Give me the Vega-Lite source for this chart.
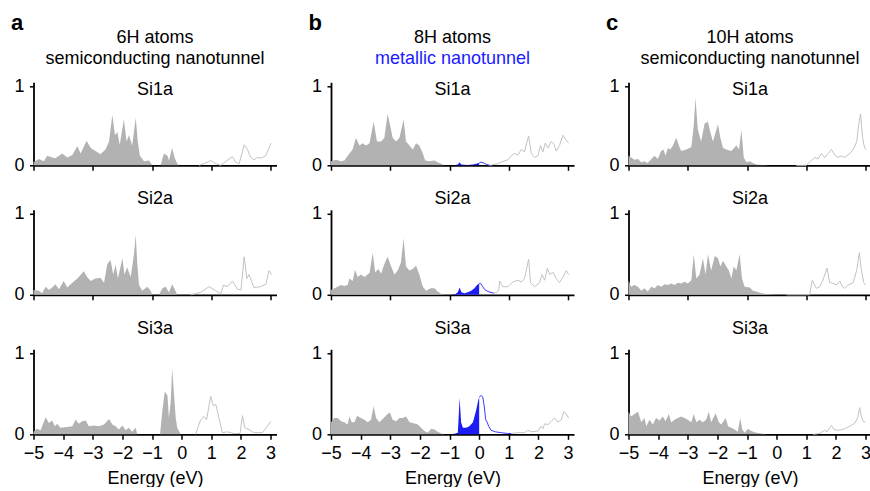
{
"$schema":"https://vega.github.io/schema/vega-lite/v6.json",
"background":"white",
"padding":{"left":10.5,"top":11.3,"right":0,"bottom":0},
"spacing":31.5,
"config":{
 "font":"Liberation Sans",
 "view":{"stroke":null},
 "axis":{"domainColor":"#000","domainWidth":1.8,"tickColor":"#000","tickWidth":1.5,"labelColor":"#000","labelFont":"Liberation Sans","labelFontSize":18,"titleFont":"Liberation Sans","titleFontSize":18,"titleFontWeight":"normal","titleColor":"#000","grid":false,"labelFlush":false,"labelOverlap":false},
 "axisX":{"tickSize":5,"labelPadding":5.5,"titlePadding":6.5,"labelOverlap":false},
 "axisQuantitative":{"labelOverlap":false},
 "axisY":{"tickSize":4,"labelPadding":5.5},
 "text":{"font":"Liberation Sans","fontSize":18,"color":"#000","baseline":"alphabetic"},
 "area":{"color":"#b2b2b2"},
 "line":{"color":"#c2c2c2","strokeWidth":1}
},
"datasets":{
 "a1g":[{"e":-5,"v":0.04},{"e":-4.82,"v":0.08},{"e":-4.65,"v":0.05},{"e":-4.54,"v":0.12},{"e":-4.37,"v":0.1},{"e":-4.26,"v":0.09},{"e":-4.03,"v":0.15},{"e":-3.86,"v":0.1},{"e":-3.69,"v":0.13},{"e":-3.52,"v":0.24},{"e":-3.41,"v":0.15},{"e":-3.21,"v":0.31},{"e":-3.07,"v":0.22},{"e":-2.91,"v":0.18},{"e":-2.74,"v":0.14},{"e":-2.57,"v":0.2},{"e":-2.45,"v":0.3},{"e":-2.34,"v":0.64},{"e":-2.25,"v":0.38},{"e":-2.17,"v":0.42},{"e":-2.09,"v":0.26},{"e":-1.95,"v":0.58},{"e":-1.86,"v":0.3},{"e":-1.78,"v":0.38},{"e":-1.67,"v":0.25},{"e":-1.55,"v":0.6},{"e":-1.48,"v":0.3},{"e":-1.41,"v":0.12},{"e":-1.27,"v":0.05},{"e":-1.1,"v":0.06},{"e":-0.99,"v":0},{"e":-0.71,"v":0},{"e":-0.6,"v":0.15},{"e":-0.48,"v":0.12},{"e":-0.43,"v":0.06},{"e":-0.32,"v":0.22},{"e":-0.24,"v":0.1},{"e":-0.15,"v":0.02},{"e":-0.09,"v":0}],
 "a1l":[{"e":0.59,"v":0},{"e":0.75,"v":0.02},{"e":0.98,"v":0.06},{"e":1.15,"v":0.02},{"e":1.32,"v":0},{"e":1.49,"v":0.05},{"e":1.71,"v":0.11},{"e":1.82,"v":0.04},{"e":1.94,"v":0.02},{"e":2.11,"v":0.26},{"e":2.22,"v":0.2},{"e":2.33,"v":0.1},{"e":2.44,"v":0.07},{"e":2.56,"v":0.1},{"e":2.67,"v":0.09},{"e":2.84,"v":0.12},{"e":3.01,"v":0.28}],
 "a2g":[{"e":-5,"v":0.06},{"e":-4.82,"v":0.05},{"e":-4.71,"v":0.02},{"e":-4.59,"v":0.1},{"e":-4.48,"v":0.06},{"e":-4.37,"v":0.09},{"e":-4.26,"v":0.13},{"e":-4.14,"v":0.07},{"e":-3.98,"v":0.17},{"e":-3.86,"v":0.09},{"e":-3.69,"v":0.15},{"e":-3.52,"v":0.2},{"e":-3.3,"v":0.29},{"e":-3.19,"v":0.22},{"e":-3.07,"v":0.17},{"e":-2.91,"v":0.2},{"e":-2.74,"v":0.21},{"e":-2.62,"v":0.15},{"e":-2.51,"v":0.38},{"e":-2.4,"v":0.43},{"e":-2.31,"v":0.25},{"e":-2.23,"v":0.37},{"e":-2.15,"v":0.2},{"e":-2.0,"v":0.45},{"e":-1.93,"v":0.25},{"e":-1.84,"v":0.34},{"e":-1.72,"v":0.22},{"e":-1.61,"v":0.5},{"e":-1.55,"v":0.74},{"e":-1.5,"v":0.4},{"e":-1.44,"v":0.12},{"e":-1.33,"v":0.05},{"e":-1.16,"v":0.1},{"e":-1.05,"v":0.05},{"e":-0.99,"v":0},{"e":-0.77,"v":0},{"e":-0.65,"v":0.08},{"e":-0.54,"v":0.1},{"e":-0.43,"v":0.03},{"e":-0.32,"v":0.13},{"e":-0.2,"v":0.04},{"e":-0.15,"v":0}],
 "a2l":[{"e":0.3,"v":0},{"e":0.64,"v":0.03},{"e":0.92,"v":0.1},{"e":1.15,"v":0.05},{"e":1.32,"v":0.01},{"e":1.41,"v":0.12},{"e":1.54,"v":0.1},{"e":1.71,"v":0.17},{"e":1.88,"v":0.07},{"e":2.0,"v":0.06},{"e":2.11,"v":0.47},{"e":2.2,"v":0.2},{"e":2.27,"v":0.25},{"e":2.44,"v":0.09},{"e":2.67,"v":0.1},{"e":2.84,"v":0.13},{"e":2.95,"v":0.3},{"e":3.03,"v":0.25}],
 "a3g":[{"e":-5,"v":0.03},{"e":-4.88,"v":0.07},{"e":-4.76,"v":0.05},{"e":-4.59,"v":0.21},{"e":-4.48,"v":0.14},{"e":-4.37,"v":0.17},{"e":-4.28,"v":0.1},{"e":-4.2,"v":0.13},{"e":-4.09,"v":0.08},{"e":-3.86,"v":0.09},{"e":-3.69,"v":0.1},{"e":-3.58,"v":0.18},{"e":-3.47,"v":0.13},{"e":-3.36,"v":0.16},{"e":-3.24,"v":0.17},{"e":-3.13,"v":0.1},{"e":-2.96,"v":0.11},{"e":-2.79,"v":0.1},{"e":-2.62,"v":0.12},{"e":-2.45,"v":0.19},{"e":-2.34,"v":0.12},{"e":-2.23,"v":0.1},{"e":-2.12,"v":0.06},{"e":-2.0,"v":0.11},{"e":-1.89,"v":0.05},{"e":-1.78,"v":0.08},{"e":-1.67,"v":0.03},{"e":-1.55,"v":0.08},{"e":-1.5,"v":0},{"e":-0.73,"v":0},{"e":-0.65,"v":0.3},{"e":-0.57,"v":0.53},{"e":-0.48,"v":0.48},{"e":-0.43,"v":0.2},{"e":-0.37,"v":0.4},{"e":-0.32,"v":0.82},{"e":-0.26,"v":0.5},{"e":-0.2,"v":0.2},{"e":-0.15,"v":0.08},{"e":-0.03,"v":0}],
 "a3l":[{"e":0.47,"v":0},{"e":0.64,"v":0.18},{"e":0.75,"v":0.22},{"e":0.84,"v":0.18},{"e":0.98,"v":0.47},{"e":1.07,"v":0.35},{"e":1.15,"v":0.37},{"e":1.26,"v":0.2},{"e":1.37,"v":0.02},{"e":1.54,"v":0.03},{"e":1.77,"v":0.01},{"e":1.97,"v":0.01},{"e":2.05,"v":0.23},{"e":2.13,"v":0.08},{"e":2.27,"v":0.06},{"e":2.44,"v":0.02},{"e":2.73,"v":0.02},{"e":2.89,"v":0.1},{"e":3.01,"v":0.16}],
 "b1g":[{"e":-5,"v":0.05},{"e":-4.83,"v":0.07},{"e":-4.66,"v":0.05},{"e":-4.55,"v":0.06},{"e":-4.38,"v":0.15},{"e":-4.27,"v":0.2},{"e":-4.16,"v":0.35},{"e":-4.04,"v":0.25},{"e":-3.93,"v":0.28},{"e":-3.82,"v":0.25},{"e":-3.7,"v":0.28},{"e":-3.56,"v":0.55},{"e":-3.45,"v":0.3},{"e":-3.31,"v":0.3},{"e":-3.2,"v":0.35},{"e":-3.09,"v":0.65},{"e":-3.0,"v":0.5},{"e":-2.92,"v":0.35},{"e":-2.8,"v":0.3},{"e":-2.69,"v":0.35},{"e":-2.55,"v":0.58},{"e":-2.47,"v":0.3},{"e":-2.35,"v":0.25},{"e":-2.24,"v":0.2},{"e":-2.13,"v":0.28},{"e":-2.02,"v":0.25},{"e":-1.9,"v":0.15},{"e":-1.82,"v":0.06},{"e":-1.68,"v":0.05},{"e":-1.51,"v":0.06},{"e":-1.4,"v":0.04},{"e":-1.28,"v":0.02},{"e":-1.19,"v":0}],
 "b1ba":[{"e":-0.85,"v":0},{"e":-0.72,"v":0.01},{"e":-0.66,"v":0.04},{"e":-0.61,"v":0.01},{"e":-0.4,"v":0.005},{"e":-0.2,"v":0.01},{"e":-0.1,"v":0.02},{"e":0,"v":0.03}],
 "b1bl":[{"e":0,"v":0.03},{"e":0.06,"v":0.04},{"e":0.15,"v":0.03},{"e":0.25,"v":0.01},{"e":0.35,"v":0}],
 "b1l":[{"e":0.35,"v":0},{"e":0.5,"v":0.01},{"e":0.63,"v":0.02},{"e":0.8,"v":0.05},{"e":0.97,"v":0.07},{"e":1.08,"v":0.12},{"e":1.19,"v":0.15},{"e":1.31,"v":0.13},{"e":1.42,"v":0.2},{"e":1.53,"v":0.17},{"e":1.6,"v":0.28},{"e":1.67,"v":0.37},{"e":1.76,"v":0.15},{"e":1.87,"v":0.1},{"e":1.98,"v":0.12},{"e":2.07,"v":0.25},{"e":2.15,"v":0.17},{"e":2.23,"v":0.28},{"e":2.32,"v":0.22},{"e":2.43,"v":0.3},{"e":2.52,"v":0.27},{"e":2.6,"v":0.18},{"e":2.71,"v":0.25},{"e":2.83,"v":0.38},{"e":2.91,"v":0.33},{"e":3.02,"v":0.28}],
 "b2g":[{"e":-5,"v":0.06},{"e":-4.83,"v":0.09},{"e":-4.66,"v":0.12},{"e":-4.55,"v":0.11},{"e":-4.44,"v":0.12},{"e":-4.38,"v":0.2},{"e":-4.27,"v":0.17},{"e":-4.19,"v":0.31},{"e":-4.1,"v":0.22},{"e":-3.99,"v":0.25},{"e":-3.87,"v":0.22},{"e":-3.7,"v":0.27},{"e":-3.59,"v":0.52},{"e":-3.51,"v":0.28},{"e":-3.4,"v":0.32},{"e":-3.31,"v":0.26},{"e":-3.2,"v":0.38},{"e":-3.09,"v":0.47},{"e":-2.97,"v":0.35},{"e":-2.86,"v":0.25},{"e":-2.75,"v":0.3},{"e":-2.64,"v":0.4},{"e":-2.55,"v":0.7},{"e":-2.47,"v":0.35},{"e":-2.35,"v":0.3},{"e":-2.24,"v":0.32},{"e":-2.13,"v":0.36},{"e":-2.02,"v":0.25},{"e":-1.9,"v":0.1},{"e":-1.79,"v":0.05},{"e":-1.64,"v":0.08},{"e":-1.51,"v":0.08},{"e":-1.4,"v":0.04},{"e":-1.28,"v":0.01},{"e":-1.19,"v":0}],
 "b2ba":[{"e":-0.97,"v":0},{"e":-0.8,"v":0.01},{"e":-0.72,"v":0.03},{"e":-0.66,"v":0.09},{"e":-0.6,"v":0.03},{"e":-0.5,"v":0.02},{"e":-0.38,"v":0.03},{"e":-0.27,"v":0.05},{"e":-0.16,"v":0.08},{"e":-0.07,"v":0.12},{"e":0,"v":0.14}],
 "b2bl":[{"e":0,"v":0.14},{"e":0.05,"v":0.14},{"e":0.12,"v":0.1},{"e":0.2,"v":0.06},{"e":0.3,"v":0.04},{"e":0.4,"v":0.03},{"e":0.5,"v":0.02}],
 "b2l":[{"e":0.5,"v":0.02},{"e":0.6,"v":0.03},{"e":0.66,"v":0.06},{"e":0.69,"v":0.17},{"e":0.8,"v":0.1},{"e":0.97,"v":0.1},{"e":1.14,"v":0.16},{"e":1.31,"v":0.18},{"e":1.42,"v":0.16},{"e":1.53,"v":0.2},{"e":1.67,"v":0.44},{"e":1.73,"v":0.15},{"e":1.87,"v":0.1},{"e":2.04,"v":0.15},{"e":2.12,"v":0.25},{"e":2.21,"v":0.18},{"e":2.3,"v":0.33},{"e":2.38,"v":0.25},{"e":2.49,"v":0.28},{"e":2.6,"v":0.2},{"e":2.71,"v":0.15},{"e":2.83,"v":0.22},{"e":2.94,"v":0.3},{"e":3.02,"v":0.25}],
 "b3g":[{"e":-5,"v":0.15},{"e":-4.89,"v":0.2},{"e":-4.77,"v":0.2},{"e":-4.66,"v":0.16},{"e":-4.55,"v":0.15},{"e":-4.44,"v":0.12},{"e":-4.38,"v":0.22},{"e":-4.3,"v":0.15},{"e":-4.21,"v":0.15},{"e":-4.12,"v":0.23},{"e":-3.99,"v":0.2},{"e":-3.87,"v":0.18},{"e":-3.76,"v":0.15},{"e":-3.65,"v":0.18},{"e":-3.56,"v":0.35},{"e":-3.48,"v":0.2},{"e":-3.37,"v":0.15},{"e":-3.22,"v":0.2},{"e":-3.09,"v":0.25},{"e":-3.01,"v":0.27},{"e":-2.92,"v":0.18},{"e":-2.8,"v":0.16},{"e":-2.69,"v":0.2},{"e":-2.58,"v":0.2},{"e":-2.47,"v":0.22},{"e":-2.35,"v":0.15},{"e":-2.24,"v":0.14},{"e":-2.07,"v":0.12},{"e":-1.96,"v":0.08},{"e":-1.85,"v":0.04},{"e":-1.73,"v":0.02},{"e":-1.62,"v":0.07},{"e":-1.51,"v":0.06},{"e":-1.4,"v":0.03},{"e":-1.28,"v":0.01},{"e":-1.17,"v":0}],
 "b3ba":[{"e":-0.95,"v":0},{"e":-0.8,"v":0.01},{"e":-0.72,"v":0.02},{"e":-0.68,"v":0.3},{"e":-0.66,"v":0.45},{"e":-0.61,"v":0.15},{"e":-0.55,"v":0.08},{"e":-0.44,"v":0.08},{"e":-0.33,"v":0.1},{"e":-0.21,"v":0.15},{"e":-0.1,"v":0.3},{"e":-0.03,"v":0.42},{"e":0,"v":0.46}],
 "b3bl":[{"e":0,"v":0.46},{"e":0.07,"v":0.48},{"e":0.12,"v":0.46},{"e":0.17,"v":0.35},{"e":0.22,"v":0.18},{"e":0.27,"v":0.15},{"e":0.32,"v":0.1},{"e":0.4,"v":0.05},{"e":0.55,"v":0.03},{"e":0.75,"v":0.02},{"e":0.95,"v":0.01},{"e":1.08,"v":0.01}],
 "b3l":[{"e":1.08,"v":0.01},{"e":1.31,"v":0.02},{"e":1.53,"v":0.02},{"e":1.64,"v":0.05},{"e":1.76,"v":0.03},{"e":1.98,"v":0.04},{"e":2.09,"v":0.1},{"e":2.15,"v":0.07},{"e":2.21,"v":0.13},{"e":2.32,"v":0.12},{"e":2.43,"v":0.16},{"e":2.55,"v":0.2},{"e":2.66,"v":0.15},{"e":2.77,"v":0.18},{"e":2.86,"v":0.28},{"e":2.94,"v":0.25},{"e":3.02,"v":0.2}],
 "c1g":[{"e":-5,"v":0.12},{"e":-4.91,"v":0.1},{"e":-4.8,"v":0.07},{"e":-4.68,"v":0.08},{"e":-4.57,"v":0.04},{"e":-4.46,"v":0.05},{"e":-4.35,"v":0.03},{"e":-4.23,"v":0.08},{"e":-4.12,"v":0.12},{"e":-4.01,"v":0.08},{"e":-3.9,"v":0.18},{"e":-3.82,"v":0.2},{"e":-3.75,"v":0.12},{"e":-3.67,"v":0.22},{"e":-3.59,"v":0.2},{"e":-3.5,"v":0.25},{"e":-3.39,"v":0.35},{"e":-3.3,"v":0.25},{"e":-3.22,"v":0.18},{"e":-3.05,"v":0.2},{"e":-2.88,"v":0.23},{"e":-2.8,"v":0.5},{"e":-2.74,"v":0.85},{"e":-2.66,"v":0.45},{"e":-2.55,"v":0.3},{"e":-2.43,"v":0.53},{"e":-2.32,"v":0.55},{"e":-2.24,"v":0.42},{"e":-2.15,"v":0.3},{"e":-1.98,"v":0.52},{"e":-1.9,"v":0.35},{"e":-1.81,"v":0.22},{"e":-1.7,"v":0.2},{"e":-1.53,"v":0.18},{"e":-1.36,"v":0.25},{"e":-1.27,"v":0.2},{"e":-1.19,"v":0.45},{"e":-1.11,"v":0.1},{"e":-1.02,"v":0.04},{"e":-0.91,"v":0.05},{"e":-0.8,"v":0.03},{"e":-0.69,"v":0.01},{"e":-0.46,"v":0.005},{"e":-0.24,"v":0}],
 "c1l":[{"e":0.66,"v":0},{"e":1.0,"v":0},{"e":1.17,"v":0.06},{"e":1.28,"v":0.1},{"e":1.4,"v":0.08},{"e":1.51,"v":0.15},{"e":1.62,"v":0.1},{"e":1.74,"v":0.15},{"e":1.85,"v":0.2},{"e":1.96,"v":0.13},{"e":2.07,"v":0.1},{"e":2.18,"v":0.12},{"e":2.3,"v":0.1},{"e":2.47,"v":0.15},{"e":2.59,"v":0.2},{"e":2.7,"v":0.3},{"e":2.78,"v":0.55},{"e":2.83,"v":0.65},{"e":2.9,"v":0.35},{"e":2.95,"v":0.25},{"e":3.0,"v":0.2}],
 "c2g":[{"e":-5,"v":0.18},{"e":-4.91,"v":0.1},{"e":-4.8,"v":0.12},{"e":-4.68,"v":0.1},{"e":-4.57,"v":0.05},{"e":-4.46,"v":0.08},{"e":-4.35,"v":0.04},{"e":-4.23,"v":0.1},{"e":-4.12,"v":0.08},{"e":-4.01,"v":0.12},{"e":-3.9,"v":0.1},{"e":-3.78,"v":0.13},{"e":-3.67,"v":0.12},{"e":-3.56,"v":0.14},{"e":-3.45,"v":0.12},{"e":-3.33,"v":0.15},{"e":-3.22,"v":0.14},{"e":-3.11,"v":0.16},{"e":-3.0,"v":0.14},{"e":-2.88,"v":0.18},{"e":-2.8,"v":0.5},{"e":-2.71,"v":0.2},{"e":-2.6,"v":0.25},{"e":-2.49,"v":0.45},{"e":-2.4,"v":0.25},{"e":-2.32,"v":0.5},{"e":-2.21,"v":0.3},{"e":-2.09,"v":0.48},{"e":-1.98,"v":0.45},{"e":-1.9,"v":0.35},{"e":-1.81,"v":0.42},{"e":-1.7,"v":0.35},{"e":-1.61,"v":0.3},{"e":-1.53,"v":0.2},{"e":-1.45,"v":0.35},{"e":-1.36,"v":0.3},{"e":-1.25,"v":0.5},{"e":-1.17,"v":0.2},{"e":-1.08,"v":0.1},{"e":-0.91,"v":0.09},{"e":-0.8,"v":0.05},{"e":-0.69,"v":0.04},{"e":-0.52,"v":0.02},{"e":-0.35,"v":0.01},{"e":-0.12,"v":0.005},{"e":-0.01,"v":0}],
 "c2l":[{"e":0.33,"v":0},{"e":0.89,"v":0},{"e":1.11,"v":0},{"e":1.2,"v":0.18},{"e":1.34,"v":0.08},{"e":1.45,"v":0.1},{"e":1.56,"v":0.18},{"e":1.7,"v":0.33},{"e":1.79,"v":0.15},{"e":1.91,"v":0.14},{"e":2.02,"v":0.12},{"e":2.13,"v":0.17},{"e":2.22,"v":0.1},{"e":2.3,"v":0.08},{"e":2.41,"v":0.12},{"e":2.58,"v":0.15},{"e":2.7,"v":0.3},{"e":2.79,"v":0.52},{"e":2.86,"v":0.3},{"e":2.94,"v":0.15},{"e":3.0,"v":0.12}],
 "c3g":[{"e":-5,"v":0.28},{"e":-4.91,"v":0.22},{"e":-4.8,"v":0.25},{"e":-4.68,"v":0.28},{"e":-4.57,"v":0.15},{"e":-4.46,"v":0.2},{"e":-4.4,"v":0.1},{"e":-4.29,"v":0.18},{"e":-4.18,"v":0.12},{"e":-4.07,"v":0.2},{"e":-3.95,"v":0.17},{"e":-3.84,"v":0.22},{"e":-3.75,"v":0.16},{"e":-3.64,"v":0.25},{"e":-3.56,"v":0.15},{"e":-3.45,"v":0.18},{"e":-3.33,"v":0.2},{"e":-3.22,"v":0.22},{"e":-3.11,"v":0.2},{"e":-3.0,"v":0.18},{"e":-2.88,"v":0.15},{"e":-2.8,"v":0.25},{"e":-2.71,"v":0.15},{"e":-2.6,"v":0.18},{"e":-2.49,"v":0.15},{"e":-2.38,"v":0.18},{"e":-2.29,"v":0.28},{"e":-2.21,"v":0.15},{"e":-2.06,"v":0.26},{"e":-1.95,"v":0.15},{"e":-1.87,"v":0.12},{"e":-1.72,"v":0.2},{"e":-1.64,"v":0.1},{"e":-1.53,"v":0.08},{"e":-1.42,"v":0.06},{"e":-1.31,"v":0.03},{"e":-1.23,"v":0.2},{"e":-1.16,"v":0.06},{"e":-1.08,"v":0.02},{"e":-0.97,"v":0.07},{"e":-0.86,"v":0.04},{"e":-0.69,"v":0.02},{"e":-0.52,"v":0.01},{"e":-0.35,"v":0}],
 "c3l":[{"e":1.23,"v":0},{"e":1.45,"v":0.01},{"e":1.62,"v":0.05},{"e":1.7,"v":0.03},{"e":1.79,"v":0.08},{"e":1.85,"v":0.11},{"e":1.93,"v":0.06},{"e":2.07,"v":0.05},{"e":2.24,"v":0.06},{"e":2.35,"v":0.08},{"e":2.47,"v":0.1},{"e":2.64,"v":0.14},{"e":2.73,"v":0.2},{"e":2.8,"v":0.33},{"e":2.86,"v":0.22},{"e":2.92,"v":0.16},{"e":3.0,"v":0.15}]
},
"hconcat":[
 {"spacing":15.5,"vconcat":[
  {"width":243,"height":83,
   "layer":[
    {"data":{"name":"a1g"},"mark":"area","encoding":{"x":{"field":"e","type":"quantitative","scale":{"domain":[-5,3.2],"nice":false,"zero":false},"axis":{"values":[-5,-4,-3,-2,-1,0,1,2,3],"labels":false,"title":null}},"y":{"field":"v","type":"quantitative","scale":{"domain":[0,1.05],"nice":false},"axis":{"values":[0,1],"format":"d","title":null}}}},
    {"data":{"name":"a1l"},"mark":"line","encoding":{"x":{"field":"e","type":"quantitative","title":null},"y":{"field":"v","type":"quantitative","title":null}}},
    {"data":{"values":[{"t":"Si1a"}]},"mark":"text","encoding":{"text":{"field":"t"},"x":{"datum":-0.9},"y":{"datum":0.886}}},
    {"data":{"values":[{"t":"6H atoms"}]},"mark":"text","encoding":{"text":{"field":"t"},"x":{"datum":-0.9},"y":{"datum":1.547}}},
    {"data":{"values":[{"t":"semiconducting nanotunnel"}]},"mark":"text","encoding":{"text":{"field":"t"},"x":{"datum":-0.9},"y":{"datum":1.287}}},
    {"data":{"values":[{"t":"a"}]},"mark":{"type":"text","align":"left","fontSize":22,"fontWeight":"bold"},"encoding":{"text":{"field":"t"},"x":{"datum":-5.76},"y":{"datum":1.717}}}
   ]},
  {"width":243,"height":85,
   "layer":[
    {"data":{"name":"a2g"},"mark":"area","encoding":{"x":{"field":"e","type":"quantitative","scale":{"domain":[-5,3.2],"nice":false,"zero":false},"axis":{"values":[-5,-4,-3,-2,-1,0,1,2,3],"labels":false,"title":null}},"y":{"field":"v","type":"quantitative","scale":{"domain":[0,1.05],"nice":false},"axis":{"values":[0,1],"format":"d","title":null}}}},
    {"data":{"name":"a2l"},"mark":"line","encoding":{"x":{"field":"e","type":"quantitative","title":null},"y":{"field":"v","type":"quantitative","title":null}}},
    {"data":{"values":[{"t":"Si2a"}]},"mark":"text","encoding":{"text":{"field":"t"},"x":{"datum":-0.9},"y":{"datum":1.12}}}
   ]},
  {"width":243,"height":85,
   "layer":[
    {"data":{"name":"a3g"},"mark":"area","encoding":{"x":{"field":"e","type":"quantitative","scale":{"domain":[-5,3.2],"nice":false,"zero":false},"axis":{"values":[-5,-4,-3,-2,-1,0,1,2,3],"labelOverlap":false,"labelBound":false,"title":"Energy (eV)"}},"y":{"field":"v","type":"quantitative","scale":{"domain":[0,1.05],"nice":false},"axis":{"values":[0,1],"format":"d","title":null}}}},
    {"data":{"name":"a3l"},"mark":"line","encoding":{"x":{"field":"e","type":"quantitative","axis":{"values":[-5,-4,-3,-2,-1,0,1,2,3],"labelOverlap":false,"title":"Energy (eV)"}},"y":{"field":"v","type":"quantitative","title":null}}},
    {"data":{"values":[{"t":"Si3a"}]},"mark":"text","encoding":{"text":{"field":"t"},"x":{"datum":-0.9,"axis":{"values":[-5,-4,-3,-2,-1,0,1,2,3],"labelOverlap":false,"title":"Energy (eV)"}},"y":{"datum":1.244}}}
   ]}
 ]},
 {"spacing":15.5,"vconcat":[
  {"width":243,"height":83,
   "layer":[
    {"data":{"name":"b1g"},"mark":"area","encoding":{"x":{"field":"e","type":"quantitative","scale":{"domain":[-5,3.2],"nice":false,"zero":false},"axis":{"values":[-5,-4,-3,-2,-1,0,1,2,3],"labels":false,"title":null}},"y":{"field":"v","type":"quantitative","scale":{"domain":[0,1.05],"nice":false},"axis":{"values":[0,1],"format":"d","title":null}}}},
    {"data":{"name":"b1l"},"mark":"line","encoding":{"x":{"field":"e","type":"quantitative","title":null},"y":{"field":"v","type":"quantitative","title":null}}},
    {"data":{"name":"b1ba"},"mark":{"type":"area","color":"#1c1cf5"},"encoding":{"x":{"field":"e","type":"quantitative","title":null},"y":{"field":"v","type":"quantitative","title":null}}},
    {"data":{"name":"b1bl"},"mark":{"type":"line","color":"#3a3aff","strokeWidth":1},"encoding":{"x":{"field":"e","type":"quantitative","title":null},"y":{"field":"v","type":"quantitative","title":null}}},
    {"data":{"values":[{"t":"Si1a"}]},"mark":"text","encoding":{"text":{"field":"t"},"x":{"datum":-0.9},"y":{"datum":0.886}}},
    {"data":{"values":[{"t":"8H atoms"}]},"mark":"text","encoding":{"text":{"field":"t"},"x":{"datum":-0.9},"y":{"datum":1.547}}},
    {"data":{"values":[{"t":"metallic nanotunnel"}]},"mark":{"type":"text","color":"#1a1aff"},"encoding":{"text":{"field":"t"},"x":{"datum":-0.9},"y":{"datum":1.287}}},
    {"data":{"values":[{"t":"b"}]},"mark":{"type":"text","align":"left","fontSize":22,"fontWeight":"bold"},"encoding":{"text":{"field":"t"},"x":{"datum":-5.76},"y":{"datum":1.717}}}
   ]},
  {"width":243,"height":85,
   "layer":[
    {"data":{"name":"b2g"},"mark":"area","encoding":{"x":{"field":"e","type":"quantitative","scale":{"domain":[-5,3.2],"nice":false,"zero":false},"axis":{"values":[-5,-4,-3,-2,-1,0,1,2,3],"labels":false,"title":null}},"y":{"field":"v","type":"quantitative","scale":{"domain":[0,1.05],"nice":false},"axis":{"values":[0,1],"format":"d","title":null}}}},
    {"data":{"name":"b2l"},"mark":"line","encoding":{"x":{"field":"e","type":"quantitative","title":null},"y":{"field":"v","type":"quantitative","title":null}}},
    {"data":{"name":"b2ba"},"mark":{"type":"area","color":"#1c1cf5"},"encoding":{"x":{"field":"e","type":"quantitative","title":null},"y":{"field":"v","type":"quantitative","title":null}}},
    {"data":{"name":"b2bl"},"mark":{"type":"line","color":"#3a3aff","strokeWidth":1},"encoding":{"x":{"field":"e","type":"quantitative","title":null},"y":{"field":"v","type":"quantitative","title":null}}},
    {"data":{"values":[{"t":"Si2a"}]},"mark":"text","encoding":{"text":{"field":"t"},"x":{"datum":-0.9},"y":{"datum":1.12}}}
   ]},
  {"width":243,"height":85,
   "layer":[
    {"data":{"name":"b3g"},"mark":"area","encoding":{"x":{"field":"e","type":"quantitative","scale":{"domain":[-5,3.2],"nice":false,"zero":false},"axis":{"values":[-5,-4,-3,-2,-1,0,1,2,3],"labelOverlap":false,"labelBound":false,"title":"Energy (eV)"}},"y":{"field":"v","type":"quantitative","scale":{"domain":[0,1.05],"nice":false},"axis":{"values":[0,1],"format":"d","title":null}}}},
    {"data":{"name":"b3l"},"mark":"line","encoding":{"x":{"field":"e","type":"quantitative","axis":{"values":[-5,-4,-3,-2,-1,0,1,2,3],"labelOverlap":false,"title":"Energy (eV)"}},"y":{"field":"v","type":"quantitative","title":null}}},
    {"data":{"name":"b3ba"},"mark":{"type":"area","color":"#1c1cf5"},"encoding":{"x":{"field":"e","type":"quantitative","axis":{"values":[-5,-4,-3,-2,-1,0,1,2,3],"labelOverlap":false,"title":"Energy (eV)"}},"y":{"field":"v","type":"quantitative","title":null}}},
    {"data":{"name":"b3bl"},"mark":{"type":"line","color":"#3a3aff","strokeWidth":1},"encoding":{"x":{"field":"e","type":"quantitative","axis":{"values":[-5,-4,-3,-2,-1,0,1,2,3],"labelOverlap":false,"title":"Energy (eV)"}},"y":{"field":"v","type":"quantitative","title":null}}},
    {"data":{"values":[{"t":"Si3a"}]},"mark":"text","encoding":{"text":{"field":"t"},"x":{"datum":-0.9,"axis":{"values":[-5,-4,-3,-2,-1,0,1,2,3],"labelOverlap":false,"title":"Energy (eV)"}},"y":{"datum":1.244}}}
   ]}
 ]},
 {"spacing":15.5,"vconcat":[
  {"width":243,"height":83,
   "layer":[
    {"data":{"name":"c1g"},"mark":"area","encoding":{"x":{"field":"e","type":"quantitative","scale":{"domain":[-5,3.2],"nice":false,"zero":false},"axis":{"values":[-5,-4,-3,-2,-1,0,1,2,3],"labels":false,"title":null}},"y":{"field":"v","type":"quantitative","scale":{"domain":[0,1.05],"nice":false},"axis":{"values":[0,1],"format":"d","title":null}}}},
    {"data":{"name":"c1l"},"mark":"line","encoding":{"x":{"field":"e","type":"quantitative","title":null},"y":{"field":"v","type":"quantitative","title":null}}},
    {"data":{"values":[{"t":"Si1a"}]},"mark":"text","encoding":{"text":{"field":"t"},"x":{"datum":-0.9},"y":{"datum":0.886}}},
    {"data":{"values":[{"t":"10H atoms"}]},"mark":"text","encoding":{"text":{"field":"t"},"x":{"datum":-0.9},"y":{"datum":1.547}}},
    {"data":{"values":[{"t":"semiconducting nanotunnel"}]},"mark":"text","encoding":{"text":{"field":"t"},"x":{"datum":-0.9},"y":{"datum":1.287}}},
    {"data":{"values":[{"t":"c"}]},"mark":{"type":"text","align":"left","fontSize":22,"fontWeight":"bold"},"encoding":{"text":{"field":"t"},"x":{"datum":-5.76},"y":{"datum":1.717}}}
   ]},
  {"width":243,"height":85,
   "layer":[
    {"data":{"name":"c2g"},"mark":"area","encoding":{"x":{"field":"e","type":"quantitative","scale":{"domain":[-5,3.2],"nice":false,"zero":false},"axis":{"values":[-5,-4,-3,-2,-1,0,1,2,3],"labels":false,"title":null}},"y":{"field":"v","type":"quantitative","scale":{"domain":[0,1.05],"nice":false},"axis":{"values":[0,1],"format":"d","title":null}}}},
    {"data":{"name":"c2l"},"mark":"line","encoding":{"x":{"field":"e","type":"quantitative","title":null},"y":{"field":"v","type":"quantitative","title":null}}},
    {"data":{"values":[{"t":"Si2a"}]},"mark":"text","encoding":{"text":{"field":"t"},"x":{"datum":-0.9},"y":{"datum":1.12}}}
   ]},
  {"width":243,"height":85,
   "layer":[
    {"data":{"name":"c3g"},"mark":"area","encoding":{"x":{"field":"e","type":"quantitative","scale":{"domain":[-5,3.2],"nice":false,"zero":false},"axis":{"values":[-5,-4,-3,-2,-1,0,1,2,3],"labelOverlap":false,"labelBound":false,"title":"Energy (eV)"}},"y":{"field":"v","type":"quantitative","scale":{"domain":[0,1.05],"nice":false},"axis":{"values":[0,1],"format":"d","title":null}}}},
    {"data":{"name":"c3l"},"mark":"line","encoding":{"x":{"field":"e","type":"quantitative","axis":{"values":[-5,-4,-3,-2,-1,0,1,2,3],"labelOverlap":false,"title":"Energy (eV)"}},"y":{"field":"v","type":"quantitative","title":null}}},
    {"data":{"values":[{"t":"Si3a"}]},"mark":"text","encoding":{"text":{"field":"t"},"x":{"datum":-0.9,"axis":{"values":[-5,-4,-3,-2,-1,0,1,2,3],"labelOverlap":false,"title":"Energy (eV)"}},"y":{"datum":1.244}}}
   ]}
 ]}
]
}
